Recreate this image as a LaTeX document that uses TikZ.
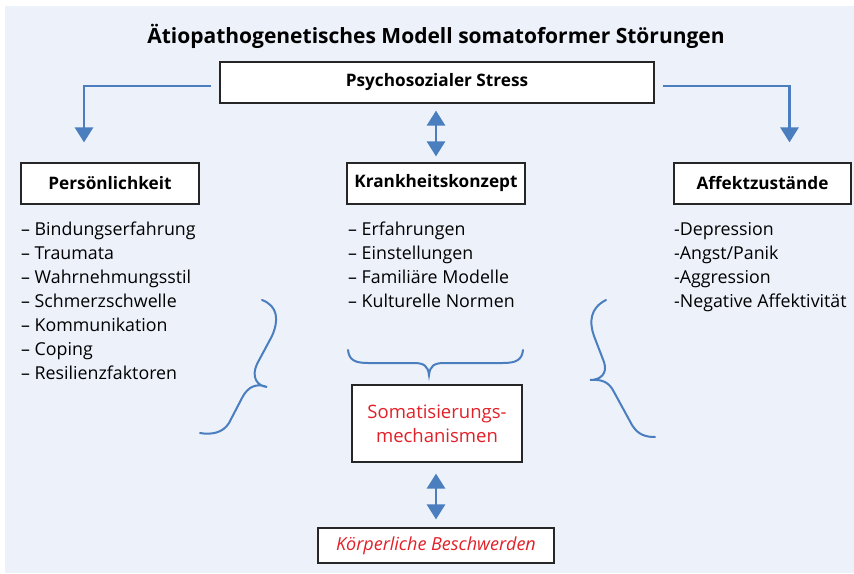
\documentclass[tikz,border=0pt]{standalone}
\usepackage{fontspec}
\setmainfont{Open Sans}
\usetikzlibrary{arrows.meta}

\definecolor{bgblue}{RGB}{236,241,250}
\definecolor{arrowblue}{RGB}{74,126,191}
\definecolor{textred}{RGB}{226,32,40}

\tikzset{
  box/.style={draw=black!85, line width=1.2pt, fill=white, inner sep=0pt},
  head/.style={font=\fontsize{17.2}{19}\selectfont\bfseries},
  item/.style={anchor=base west, inner sep=0pt, font=\fontsize{17.8}{20}\selectfont},
  flow/.style={draw=arrowblue, line width=2.8pt, -{Triangle[width=18pt,length=15pt]}},
  dflow/.style={draw=arrowblue, line width=2.8pt, {Triangle[width=18pt,length=15pt]}-{Triangle[width=18pt,length=15pt]}},
  brace/.style={draw=arrowblue, line width=2pt, line cap=round}
}

\begin{document}
\begin{tikzpicture}[x=1pt, y=-1pt]
    \useasboundingbox (0,0) rectangle (854,573);
    \fill[bgblue] (5,6) rectangle (854,573);

    % title
    \node[anchor=base, inner sep=0pt, font=\fontsize{21}{24}\selectfont\bfseries] (title) at (436,43)
        {Ätiopathogenetisches Modell somatoformer Störungen};

    % boxes
    \node[box, head, minimum width=434pt, minimum height=41pt] (stress) at (437,82.5) {Psychosozialer Stress};
    \node[box, head, minimum width=178pt, minimum height=41pt] (pers) at (110,183.5) {Persönlichkeit};
    \node[box, head, minimum width=178pt, minimum height=41pt] (konzept) at (436,183.5) {Krankheitskonzept};
    \node[box, head, minimum width=177pt, minimum height=41pt] (affekt) at (762.5,183.5) {Affektzustände};
    \node[box, minimum width=170pt, minimum height=77pt, text=textred, align=center,
          font=\fontsize{18.5}{24}\selectfont] (soma) at (437,423.5) {Somatisierungs-\\mechanismen};
    \node[box, minimum width=236pt, minimum height=35pt, text=textred,
          font=\fontsize{18}{20}\selectfont\itshape] (koerper) at (436,545.5) {Körperliche Beschwerden};

    % lists
    \foreach \txt [count=\i] in {Bindungserfahrung, Traumata, Wahrnehmungsstil, Schmerzschwelle,
                                 Kommunikation, Coping, Resilienzfaktoren}
        \node[item] (pers-\i) at (21,211+24*\i) {– \txt};
    \foreach \txt [count=\i] in {Erfahrungen, Einstellungen, Familiäre Modelle, Kulturelle Normen}
        \node[item] (konzept-\i) at (348,211+24*\i) {– \txt};
    \foreach \txt [count=\i] in {Depression, Angst/Panik, Aggression, Negative Affektivität}
        \node[item] (affekt-\i) at (674,211+24*\i) {-\txt};

    % arrows
    \draw[flow] ([xshift=-8pt,yshift=-3.5pt]stress.west) -| ([xshift=-26pt,yshift=20pt]pers.north);
    \draw[flow] ([xshift=8pt,yshift=-3.5pt]stress.east) -| ([xshift=27pt,yshift=20pt]affekt.north);
    \draw[dflow] ([yshift=-7pt]konzept.north |- stress.south) -- ([yshift=6pt]konzept.north);
    \draw[dflow] ([yshift=-11pt]koerper.north |- soma.south) -- ([yshift=8pt]koerper.north);

    % braces
    \draw[brace] (262,300) .. controls (278,306) and (279,320) .. (272,336) -- (257,364)
        .. controls (251,377) and (257,386) .. (267,387)
        .. controls (257,383) and (248,386) .. (242,398) -- (229,423)
        .. controls (223,433) and (211,435) .. (200,433);
    \draw[brace] (606,300) .. controls (590,308) and (589,322) .. (594,336) -- (604,362)
        .. controls (608,374) and (600,380) .. (590,380)
        .. controls (602,379) and (609,382) .. (614,392) -- (632,425)
        .. controls (638,435) and (646,437) .. (655,437);
    \draw[brace] (348,350) .. controls (349,360) and (355,363) .. (368,363) -- (414,363)
        .. controls (424,363) and (428,366) .. (429,375)
        .. controls (430,366) and (434,363) .. (444,363) -- (503,363)
        .. controls (516,363) and (522,360) .. (523,350);
\end{tikzpicture}
\end{document}
